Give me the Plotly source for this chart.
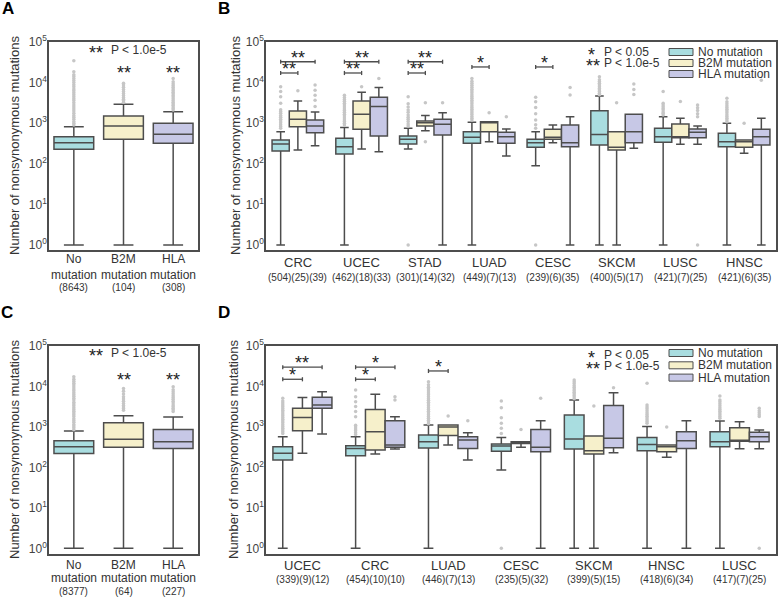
import plotly.graph_objects as go

W, H = 778, 597

# ---- data ----
groups = ["No mutation", "B2M mutation", "HLA mutation"]
colors = ["#a9dde0", "#f6f0cb", "#c7c8e6"]

a_names = ["No", "B2M", "HLA"]
a_counts = ["(8643)", "(104)", "(308)"]
c_counts = ["(8377)", "(64)", "(227)"]

# each box: lower whisker, q1, median, q3, upper whisker
a_stats = [(1, 228, 331, 465, 820), (1, 400, 851, 1500, 2920), (1, 320, 533, 994, 1920)]
a_out = [
    [900, 1000, 1100, 1250, 1400, 1550, 1750, 2000, 2250, 2500, 2800, 3200, 3600, 4000, 4500,
     5000, 5600, 6300, 7000, 7900, 8900, 10000, 11200, 12600, 14200, 15500, 18600, 34700],
    [3300, 3600, 3900, 4300, 4800, 5400, 6000, 6800, 7700, 8700, 9600],
    [2100, 2300, 2500, 2750, 3000, 3300, 3600, 4000, 4400, 4800, 5300, 5800, 6400, 7000, 7700,
     8500, 9400, 10500, 12700],
]
c_stats = [(1, 222, 325, 457, 790), (1, 313, 495, 1260, 1900), (1, 295, 433, 870, 1770)]
c_out = [
    [850, 950, 1050, 1150, 1300, 1450, 1600, 1800, 2000, 2200, 2450, 2700, 3000, 3350, 3700,
     4100, 4600, 5100, 5700, 6300, 7000, 7800, 8700, 9700, 10800, 12000, 13500, 15000, 17500],
    [2600, 2850, 3100, 3400, 3800, 4300, 4900, 5600, 6500, 7600, 8900],
    [2400, 2650, 2900, 3200, 3500, 3900, 4300, 4800, 5300, 5900, 6600, 7400, 8300, 9800],
]

b_cats = ["CRC", "UCEC", "STAD", "LUAD", "CESC", "SKCM", "LUSC", "HNSC"]
b_counts = ["(504)(25)(39)", "(462)(18)(33)", "(301)(14)(32)", "(449)(7)(13)",
            "(239)(6)(35)", "(400)(5)(17)", "(421)(7)(25)", "(421)(6)(35)"]
b_no = [(1, 207, 308, 385, 620), (1, 174, 264, 425, 780), (231, 308, 400, 483, 750),
        (1, 320, 450, 617, 1050), (90, 255, 331, 400, 617), (1, 290, 530, 2030, 4680),
        (1, 338, 464, 750, 1440), (1, 263, 350, 565, 1000)]
b_b2m = [(218, 822, 1260, 1990, 3530), (231, 710, 1660, 3530, 5750), (650, 850, 1030, 1130, 1540),
         (350, 617, 1050, 1090, 1090), (331, 400, 450, 710, 905), (1, 218, 255, 617, 617),
         (302, 440, 455, 955, 1320), (181, 255, 350, 386, 386)]
b_hla = [(280, 585, 850, 1200, 1900), (199, 483, 2570, 4360, 7600), (1, 512, 940, 1250, 1820),
         (155, 320, 464, 597, 720), (1, 263, 331, 900, 1440), (240, 331, 617, 1660, 1660),
         (302, 440, 597, 720, 850), (1, 290, 464, 710, 1320)]
b_no_out = [
    [750, 830, 920, 1020, 1130, 1250, 1400, 1550, 1750, 1950, 2150, 3100, 4500, 6000, 7900],
    [900, 1000, 1100, 1200, 1350, 1500, 1650, 1850, 2050, 2250, 2500, 2800, 3100, 3450, 3850, 4300, 4900],
    [1, 850, 950, 1100, 1250, 1400, 1600, 1850, 2100, 2500, 3000, 4500],
    [1200, 1330, 1470, 1630, 1800, 2000, 2200, 2450, 2700, 3000, 3350, 3700, 4100, 4550, 5000,
     5600, 6200, 6900, 7700, 8600, 9600, 10800, 12700],
    [1, 750, 910, 1200, 1700, 2450, 3390, 4350],
    [5000, 5500, 6000, 6600, 7200, 7900, 8700, 9600, 10600, 11800, 14000],
    [1600, 1750, 1900, 2100, 2300, 2550, 2800, 3100, 6000],
    [1090, 1200, 1330, 1470, 1620, 1800, 2000, 2200, 2450, 2700, 3000, 3390, 4100],
]
b_b2m_out = [[6300], [7900], [350, 3200], [1820], [], [3200], [3400], [1000]]
b_hla_out = [[2570, 3700, 4900, 6500, 8700], [12700], [3200], [1440], [4950, 7600],
             [5100, 6800, 9300], [1, 1450, 1700, 2050, 2400, 2800], [11500]]
b_sig = [(0, 1, "**"), (0, 2, "**"), (1, 1, "**"), (1, 2, "**"), (2, 1, "**"), (2, 2, "**"),
         (3, 1, "*"), (4, 1, "*")]

d_cats = ["UCEC", "CRC", "LUAD", "CESC", "SKCM", "HNSC", "LUSC"]
d_counts = ["(339)(9)(12)", "(454)(10)(10)", "(446)(7)(13)", "(235)(5)(32)",
            "(399)(5)(15)", "(418)(6)(34)", "(417)(7)(25)"]
d_no = [(1, 152, 223, 325, 575), (1, 195, 295, 345, 575), (1, 301, 433, 630, 1110),
        (86, 250, 338, 378, 550), (1, 285, 500, 1980, 4650), (1, 258, 370, 550, 1020),
        (1, 325, 433, 760, 1410)]
d_b2m = [(223, 810, 1700, 2890, 5300), (214, 270, 760, 2700, 6400), (357, 610, 1000, 1110, 1110),
         (313, 390, 410, 433, 433), (1, 214, 258, 600, 600), (177, 245, 325, 357, 357),
         (290, 440, 450, 960, 1350)]
d_hla = [(670, 2890, 3470, 5400, 7400), (285, 313, 357, 1420, 1790), (152, 295, 475, 575, 720),
         (1, 245, 313, 870, 1420), (231, 308, 523, 3380, 7000), (1, 295, 457, 760, 1420),
         (290, 433, 575, 740, 840)]
d_no_out = [
    [690, 760, 840, 930, 1030, 1140, 1260, 1400, 1550, 1720, 1900, 2100, 2330, 2580, 2850,
     3150, 3500, 3900, 4400, 5100],
    [650, 720, 800, 890, 990, 1100, 1790, 2390, 3180, 4200, 5600, 8200],
    [1200, 1330, 1470, 1630, 1800, 2000, 2200, 2450, 2700, 3000, 3350, 3700, 4100, 4550, 5000,
     5600, 6200, 6900, 7700, 8600, 9600, 11000, 13000],
    [1, 690, 925, 1230, 1690, 2990, 4370],
    [5000, 5500, 6000, 6600, 7200, 7900, 8700, 9600, 10600, 11800, 13000, 14500],
    [1230, 1360, 1500, 1660, 1840, 2030, 2250, 2500, 2800, 3100, 3470, 12000],
    [1630, 1800, 2000, 2200, 2450, 2700, 3000, 3350, 3750, 4200, 4620, 5800],
]
d_b2m_out = [[], [], [1860], [870], [3300], [1000], []]
d_hla_out = [[], [4600, 5600], [1420], [5100], [9300], [], [1, 1800, 2000, 2250, 2500, 2900]]
d_sig = [(0, 1, "*"), (0, 2, "**"), (1, 1, "*"), (1, 2, "*"), (2, 1, "*")]

# ---- styling ----
EDGE = "#4d4d4d"
TXT = "#333333"
STAR = "#222222"
FONT = "Liberation Sans, Arial, sans-serif"
OFF = [-0.27, 0.0, 0.27]


def px(p):
    return p / W


def py(p):
    return 1 - p / H


fig = go.Figure()


def add_box(xa, ya, xs, stats, outs, color, width):
    ox = [x for x, o in zip(xs, outs) for _ in o]
    oy = [v for o in outs for v in o]
    fig.add_trace(go.Scatter(x=ox, y=oy, mode="markers", xaxis=xa, yaxis=ya,
                             marker=dict(color="#c6c6c6", size=3.5), showlegend=False,
                             hoverinfo="skip"))
    fig.add_trace(go.Box(x=xs, lowerfence=[s[0] for s in stats], q1=[s[1] for s in stats],
                         median=[s[2] for s in stats], q3=[s[3] for s in stats],
                         upperfence=[s[4] for s in stats], width=width, whiskerwidth=0.5,
                         fillcolor=color, line=dict(color=EDGE, width=1.5), boxpoints=False,
                         xaxis=xa, yaxis=ya, showlegend=False, hoverinfo="skip"))


# panels A and C
for xa, ya, stats, outs in [("x", "y", a_stats, a_out), ("x3", "y3", c_stats, c_out)]:
    for g in range(3):
        add_box(xa, ya, [g], [stats[g]], [outs[g]], colors[g], 0.8)

# panels B and D
for xa, ya, series, outs in [("x2", "y2", [b_no, b_b2m, b_hla], [b_no_out, b_b2m_out, b_hla_out]),
                             ("x4", "y4", [d_no, d_b2m, d_hla], [d_no_out, d_b2m_out, d_hla_out])]:
    for g in range(3):
        xs = [i + OFF[g] for i in range(len(series[g]))]
        add_box(xa, ya, xs, series[g], outs[g], colors[g], 0.27)

xcommon = dict(showline=True, mirror=True, linecolor=EDGE, linewidth=1.6, showgrid=False,
               zeroline=False, showticklabels=False, ticks="", automargin=False, fixedrange=True)
ycommon = dict(type="log", showline=True, mirror=True, linecolor=EDGE, linewidth=1.6,
               showgrid=False, zeroline=False, ticks="", automargin=False, fixedrange=True,
               tickvals=[1, 10, 100, 1000, 10000, 100000],
               ticktext=["10<sup>%d</sup>" % k for k in range(6)], ticklabelstandoff=-2,
               tickfont=dict(size=12, color="#444444", family=FONT))

top_dom = [py(250), py(42)]
bot_dom = [py(554), py(346)]
fig.update_layout(
    xaxis=dict(domain=[px(49), px(198)], anchor="y", range=[-0.5, 2.5], **xcommon),
    yaxis=dict(domain=top_dom, anchor="x", range=[-0.123, 5], **ycommon),
    xaxis2=dict(domain=[px(266), px(776)], anchor="y2", range=[-0.5, 7.5], **xcommon),
    yaxis2=dict(domain=top_dom, anchor="x2", range=[-0.123, 5], **ycommon),
    xaxis3=dict(domain=[px(49), px(198)], anchor="y3", range=[-0.5, 2.5], **xcommon),
    yaxis3=dict(domain=bot_dom, anchor="x3", range=[-0.14, 5], **ycommon),
    xaxis4=dict(domain=[px(266), px(776)], anchor="y4", range=[-0.5, 6.5], **xcommon),
    yaxis4=dict(domain=bot_dom, anchor="x4", range=[-0.14, 5], **ycommon),
)

ann = []
shapes = []


def text(x, y, s, size=12, xanchor="center", xref="paper", yref="paper", color=TXT, angle=0):
    ann.append(dict(x=x, y=y, text=s, xref=xref, yref=yref, xanchor=xanchor, yanchor="middle",
                    showarrow=False, textangle=angle, borderpad=0,
                    font=dict(size=size, color=color, family=FONT)))


# panel letters
for letter, x, y in [("A", 8, 9), ("B", 224, 9), ("C", 7, 312), ("D", 224, 312)]:
    text(px(x), py(y), "<b>%s</b>" % letter, size=17, color="black")

# y titles
for x, y in [(14, 146), (235, 146), (14, 450), (233, 450)]:
    text(px(x), py(y), "Number of nonsynonymous mutations", size=13, angle=-90)

# x labels for A and C
for xa, counts, y1, y2, y3 in [("x", a_counts, 259, 275, 287), ("x3", c_counts, 565, 578, 591)]:
    for g in range(3):
        text(g, py(y1), a_names[g], size=12, xref=xa)
        text(g, py(y2), "mutation", size=12, xref=xa)
        text(g, py(y3), counts[g], size=10, xref=xa)

# x labels for B and D
for xa, cats, counts, y1, y2 in [("x2", b_cats, b_counts, 262, 277), ("x4", d_cats, d_counts, 565, 579)]:
    for i in range(len(cats)):
        text(i, py(y1), cats[i], size=13, xref=xa)
        text(i, py(y2), counts[i], size=10, xref=xa)

# overall significance in A and C
for xa, ya, y0, ys in [("x", "y", 50, 70), ("x3", "y3", 353, 377)]:
    text(px(104), py(y0 + 3), "**", size=18, color=STAR, xanchor="right")
    text(px(110), py(y0), "P < 1.0e-5", size=12, xanchor="left")
    for g in (1, 2):
        text(g, py(ys + 3), "**", size=18, xref=xa, color=STAR)

# significance keys and legends in B and D
for k0, l0, dl in [(52, 52, 11), (355, 353, 12.3)]:
    text(px(596), py(k0 + 3), "*", size=18, color=STAR, xanchor="right")
    text(px(601), py(k0 + 14), "**", size=18, color=STAR, xanchor="right")
    text(px(603), py(k0), "P < 0.05", size=12, xanchor="left")
    text(px(603), py(k0 + 11), "P < 1.0e-5", size=12, xanchor="left")
    for g in range(3):
        yc = l0 + dl * g
        shapes.append(dict(type="rect", xref="paper", yref="paper", x0=px(669), x1=px(693),
                           y0=py(yc + 3.5), y1=py(yc - 3.5), fillcolor=colors[g],
                           line=dict(color=EDGE, width=1)))
        text(px(697), py(yc), groups[g], size=12, xanchor="left")

# brackets
for xa, ya, sig, lv in [("x2", "y2", b_sig, (0.851, 0.905, 0.880)),
                        ("x4", "y4", d_sig, (0.840, 0.898, 0.880))]:
    per_cat = {}
    for c, g, s in sig:
        per_cat[c] = per_cat.get(c, 0) + 1
    for c, g, s in sig:
        lev = lv[2] if per_cat[c] == 1 else lv[g - 1]
        x0, x1 = c + OFF[0], c + OFF[g]
        yr = ya + " domain"
        for sx0, sx1, sy0, sy1 in [(x0, x1, lev, lev), (x0, x0, lev - 0.01, lev + 0.01),
                                   (x1, x1, lev - 0.01, lev + 0.01)]:
            shapes.append(dict(type="line", xref=xa, yref=yr, x0=sx0, x1=sx1, y0=sy0, y1=sy1,
                               line=dict(color=EDGE, width=1.3)))
        ann.append(dict(x=(x0 + x1) / 2, y=lev + 0.02, xref=xa, yref=yr, text=s, showarrow=False,
                        xanchor="center", yanchor="middle", borderpad=0,
                        font=dict(size=18, color=STAR, family=FONT)))

fig.update_layout(width=W, height=H, margin=dict(l=0, r=0, t=0, b=0), template="none",
                  plot_bgcolor="white", paper_bgcolor="white", showlegend=False,
                  boxmode="overlay", annotations=ann, shapes=shapes,
                  font=dict(family=FONT, color=TXT))

fig.write_html("out.html", config={"displayModeBar": False},
               post_script="document.body.style.margin='0px';")
